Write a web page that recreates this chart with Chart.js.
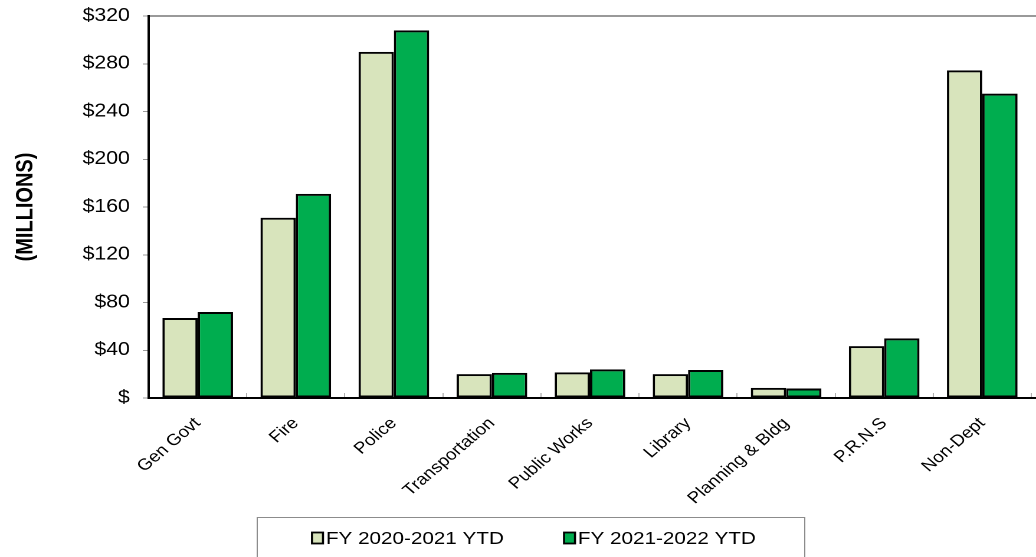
<!DOCTYPE html>
<html>
<head>
<meta charset="utf-8">
<script src="https://cdn.jsdelivr.net/npm/chart.js@4.4.1/dist/chart.umd.min.js"></script>
<style>
  html, body { margin: 0; padding: 0; background: #fff; overflow: hidden; }
  #wrap { width: 1036px; height: 557px; }
  #chart { display: block; }
</style>
</head>
<body>
<!-- drawn narrow and shown wide: the old export had wide, stretched lettering -->
<div id="wrap"><canvas id="chart" width="878" height="557" style="width:1036px;height:557px"></canvas></div>
<script>
  // departments and year-to-date totals, $ millions
  const departments = ['Gen Govt', 'Fire', 'Police', 'Transportation', 'Public Works', 'Library', 'Planning & Bldg', 'P.R.N.S', 'Non-Dept']
  const fy2021Ytd = [67, 151, 290, 20, 21.5, 20, 8.5, 43.5, 274.5]
  const fy2122Ytd = [72, 171, 308, 21, 24, 23.5, 8, 50, 255]
  const seriesNames = ['FY 2020-2021 YTD', 'FY 2021-2022 YTD']
  const seriesColors = ['#D8E4BC', '#00AD4F']
  const yMin = 0, yMax = 320, yStep = 40

  const FONT = '"Liberation Sans", Arial, Helvetica, sans-serif'
  Chart.defaults.font.family = FONT
  Chart.defaults.color = '#000'

  // plot frame runs on past the last category to the edge
  const frameTail = {
    id: 'frameTail',
    afterDraw(chart) {
      const { ctx, chartArea, width } = chart
      const y = chart.scales.y
      ctx.save()
      ctx.strokeStyle = '#999'
      ctx.lineWidth = 2
      ctx.beginPath()
      ctx.moveTo(chartArea.right, y.getPixelForValue(yMax))
      ctx.lineTo(width, y.getPixelForValue(yMax))
      ctx.stroke()
      ctx.strokeStyle = '#000'
      ctx.beginPath()
      ctx.moveTo(chartArea.right, y.getPixelForValue(yMin))
      ctx.lineTo(width, y.getPixelForValue(yMin))
      ctx.stroke()
      ctx.restore()
    }
  }

  // legend in a framed box under the axis
  const boxLegend = {
    id: 'boxLegend',
    afterDraw(chart, args, opts) {
      const ctx = chart.ctx
      ctx.save()
      ctx.strokeStyle = '#8c8c8c'
      ctx.lineWidth = 1
      ctx.strokeRect(opts.left, opts.top + 0.5, opts.width, opts.height)
      ctx.font = opts.fontSize + 'px ' + FONT
      ctx.textBaseline = 'middle'
      const items = chart.data.datasets.map(ds => ({ ds, w: ctx.measureText(ds.label).width }))
      const total = items.reduce((s, it) => s + opts.boxW + opts.gap + it.w, 0) + opts.itemGap * (items.length - 1)
      let x = opts.center - total / 2
      items.forEach(it => {
        const top = opts.y - opts.boxH / 2
        ctx.fillStyle = it.ds.backgroundColor
        ctx.fillRect(x, top, opts.boxW, opts.boxH)
        ctx.strokeStyle = '#000'
        ctx.lineWidth = 1.8
        ctx.strokeRect(x, top, opts.boxW, opts.boxH)
        x += opts.boxW + opts.gap
        ctx.fillStyle = '#000'
        ctx.fillText(it.ds.label, x, opts.y + 1)
        x += it.w + opts.itemGap
      })
      ctx.restore()
    }
  }

  function makeDatasets() {
    return [fy2021Ytd, fy2122Ytd].map((vals, i) => ({
      label: seriesNames[i],
      data: vals,
      backgroundColor: seriesColors[i],
      borderColor: '#000',
      borderWidth: 2,
      borderSkipped: false,
      barPercentage: 1,
      categoryPercentage: 0.72
    }))
  }

  const config = {
    type: 'bar',
    data: { labels: departments, datasets: makeDatasets() },
    options: {
      responsive: false,
      animation: false,
      devicePixelRatio: 2,
      layout: { padding: { top: 16, right: 4, bottom: 0, left: 0 } },
      plugins: {
        legend: { display: false },
        tooltip: { enabled: false },
        boxLegend: {
          left: 218, top: 517, width: 464, height: 60,
          center: 452.5, y: 538, boxW: 9.3, boxH: 11, gap: 2.5, itemGap: 51, fontSize: 17.5
        }
      },
      scales: {
        x: {
          grid: {
            drawOnChartArea: false,
            drawTicks: true,
            tickLength: -5,
            tickColor: '#b0b0b0',
            tickWidth: 1
          },
          border: { color: '#000', width: 2 },
          ticks: {
            font: { size: 16 },
            color: '#000',
            minRotation: 45,
            maxRotation: 45,
            autoSkip: false,
            padding: 21
          },
          afterFit(scale) { scale.height = 159 }
        },
        y: {
          min: yMin,
          max: yMax,
          ticks: {
            stepSize: yStep,
            font: { size: 18 },
            color: '#000',
            padding: 11,
            callback: v => v ? '$' + v : '$'
          },
          grid: {
            color: c => c.tick && c.tick.value === yMax ? '#999' : 'rgba(0,0,0,0)',
            lineWidth: c => c.tick && c.tick.value === yMax ? 2 : 1,
            tickColor: '#999',
            tickLength: 5,
            tickWidth: 1
          },
          border: { color: '#000', width: 2 },
          title: {
            display: true,
            text: '(MILLIONS)',
            font: { size: 20, weight: 'bold' },
            color: '#000',
            padding: { top: 10, bottom: 0 }
          },
          afterFit(scale) {
            scale.width = 126
            // plot top/bottom come from layout padding, not label overhang
            scale.paddingTop = 0
            scale.paddingBottom = 0
          }
        }
      }
    },
    plugins: [frameTail, boxLegend]
  }

  const myChart = new Chart(document.getElementById('chart'), config)
</script>
</body>
</html>
